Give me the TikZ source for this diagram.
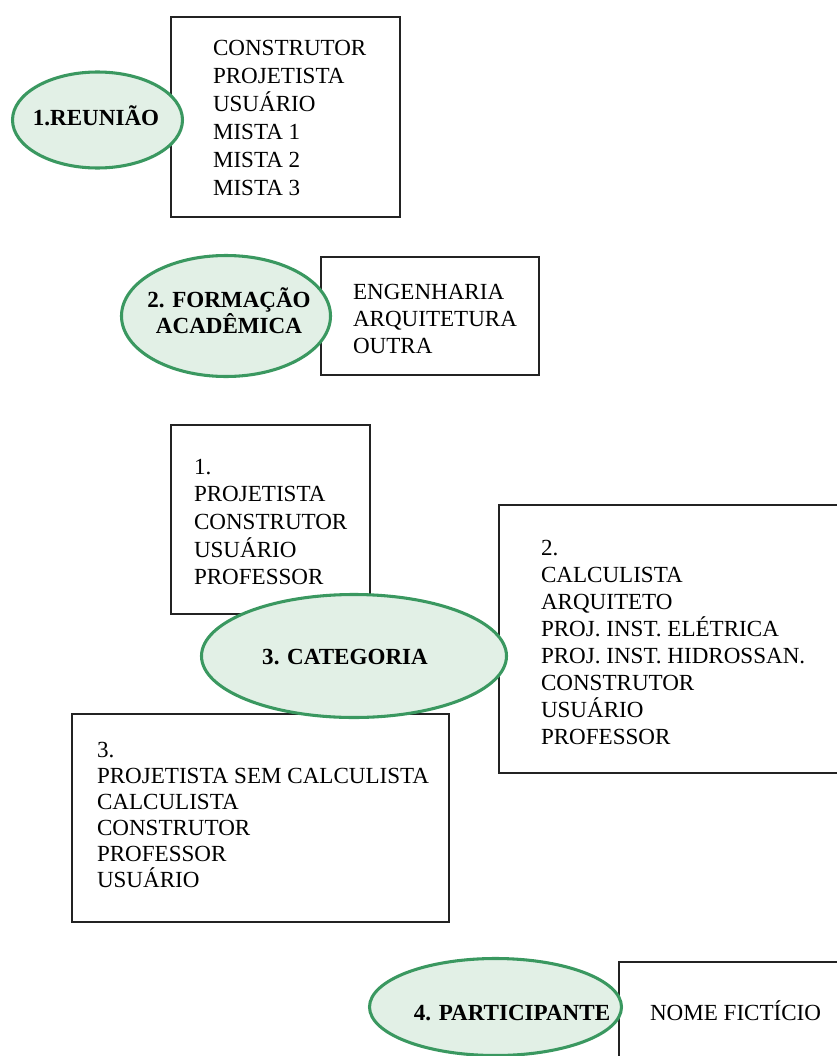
\documentclass[tikz,border=0pt]{standalone}
\usepackage{fontspec}
\setmainfont{Liberation Serif}
\usetikzlibrary{shapes.geometric}

\definecolor{ringgreen}{RGB}{58,152,96}
\definecolor{mint}{RGB}{226,240,230}
\definecolor{boxline}{RGB}{35,35,35}

% left-aligned and centred stacks of lines; the baseline is that of the first line
\newcommand\leftrows[1]{\vtop{\lineskiplimit=-\maxdimen\halign{##\hfil\cr#1\crcr}}}
\newcommand\midrows[1]{\vtop{\lineskiplimit=-\maxdimen\halign{\hfil##\hfil\cr#1\crcr}}}

\tikzset{
  listbox/.style 2 args={draw=boxline, line width=1pt, inner sep=0pt, outer sep=0pt,
    anchor=north west, minimum width=#1*0.75pt, minimum height=#2*0.75pt},
  ring/.style 2 args={ellipse, draw=ringgreen, line width=2.3pt, fill=mint,
    inner sep=0pt, outer sep=0pt, minimum width=#1*0.75pt, minimum height=#2*0.75pt},
  listtext/.style={anchor=base west, inner sep=0pt, outer sep=0pt},
  ringtext/.style={anchor=base, inner sep=0pt, outer sep=0pt,
    font=\fontsize{17.3pt}{19.5pt}\selectfont\bfseries},
}

\begin{document}
\begin{tikzpicture}[x=0.75pt, y=-0.75pt]
\useasboundingbox (0,0) rectangle (837,1056);

% boxes with the options of each item
\node[listbox={229}{200}] (b1) at (171,17) {};
\node[listbox={218}{118}] (b2) at (321,257) {};
\node[listbox={199}{189}] (c1) at (171,425) {};
\node[listbox={345}{268}] (c2) at (499,505) {};
\node[listbox={377}{208}] (c3) at (72,714) {};
\node[listbox={225}{100}] (b4) at (619,962) {};

\node[listtext, font=\fontsize{17.3pt}{20.85pt}\selectfont] (l1) at (213,56)
  {\leftrows{CONSTRUTOR\cr PROJETISTA\cr USUÁRIO\cr MISTA 1\cr MISTA 2\cr MISTA 3}};
\node[listtext, font=\fontsize{17.3pt}{20.25pt}\selectfont] (l2) at (353,299)
  {\leftrows{ENGENHARIA\cr ARQUITETURA\cr OUTRA}};
\node[listtext, font=\fontsize{17.3pt}{20.8pt}\selectfont] (lc1) at (194,474)
  {\leftrows{1.\cr PROJETISTA\cr CONSTRUTOR\cr USUÁRIO\cr PROFESSOR}};
\node[listtext, font=\fontsize{17.3pt}{20.35pt}\selectfont] (lc2) at (541,555)
  {\leftrows{2.\cr CALCULISTA\cr ARQUITETO\cr PROJ. INST. ELÉTRICA\cr PROJ. INST. HIDROSSAN.\cr CONSTRUTOR\cr USUÁRIO\cr PROFESSOR}};
\node[listtext, font=\fontsize{17.3pt}{19.5pt}\selectfont] (lc3) at (97,757)
  {\leftrows{3.\cr PROJETISTA SEM CALCULISTA\cr CALCULISTA\cr CONSTRUTOR\cr PROFESSOR\cr USUÁRIO}};
\node[listtext, font=\fontsize{17.3pt}{20.8pt}\selectfont] (l4) at (650,1020) {NOME FICTÍCIO};

% item ellipses, drawn over the box edges
\node[ring={170}{96}]  (e1) at (97.5,120) {};
\node[ring={209}{121}] (e2) at (226,316) {};
\node[ring={305}{123}] (e3) at (354,656) {};
\node[ring={252}{97}]  (e4) at (495.5,1007) {};

\node[ringtext] (t1) at (96,125) {1.REUNIÃO};
\node[ringtext] (t2) at (229,307) {\midrows{2. FORMAÇÃO\cr ACADÊMICA}};
\node[ringtext] (t3) at (345,664) {3. CATEGORIA};
\node[ringtext] (t4) at (512,1020) {4. PARTICIPANTE};
\end{tikzpicture}
\end{document}
